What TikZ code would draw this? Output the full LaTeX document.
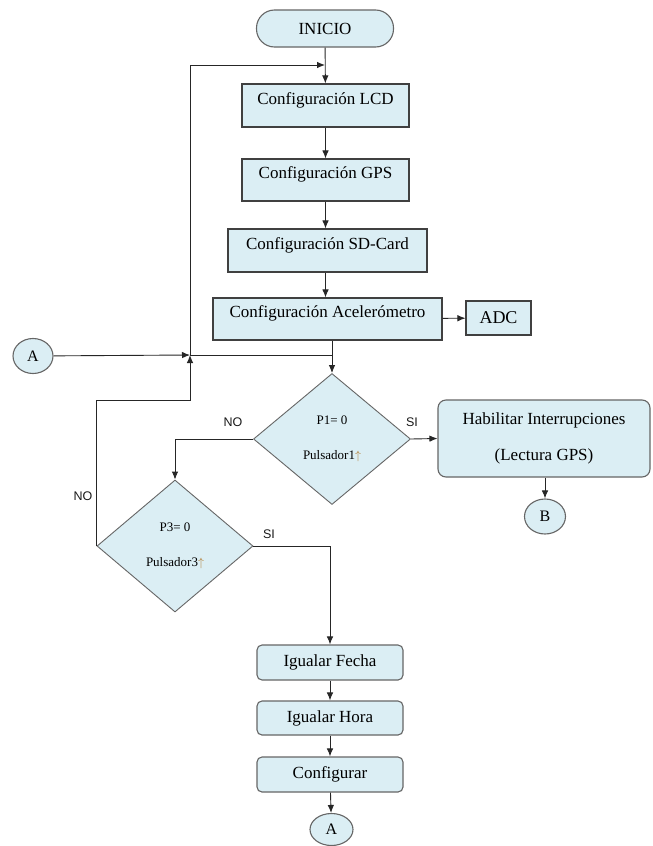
\documentclass[tikz,border=0pt]{standalone}
\usepackage{fontspec}
\setmainfont{Liberation Serif}
\newfontfamily\labelfont{Liberation Sans}
\usepackage{xcolor}
\usepackage{tikz}
\usetikzlibrary{shapes,arrows.meta,positioning}
\definecolor{boxfill}{HTML}{DBEEF4}
\definecolor{boxline}{HTML}{404040}
\definecolor{softline}{HTML}{666666}
\definecolor{upcolor}{HTML}{B07A30}

\begin{document}
\begin{tikzpicture}[x=1pt, y=-1pt,
    base/.style={rectangle, draw=boxline, line width=1.1pt, fill=boxfill, inner sep=0pt, font=\fontsize{17}{19}\selectfont},
    box/.style={base, text height=11pt, text depth=14pt},
    rbox/.style={base, draw=softline, rounded corners=5pt},
    term/.style={base, draw=softline, rounded corners=18pt},
    cond/.style={diamond, draw=softline, line width=0.9pt, fill=boxfill, inner sep=0pt, align=center, font=\fontsize{13}{15}\selectfont},
    conn/.style={ellipse, draw=softline, line width=1.1pt, fill=boxfill, inner sep=0pt, font=\fontsize{16}{19}\selectfont},
    lbl/.style={font=\labelfont\fontsize{12.5}{15}\selectfont, text=black!90},
    arrow/.style={-{Latex[length=8pt,width=6.5pt]}, line width=0.9pt, draw=black!85},
    wire/.style={line width=0.9pt, draw=black!85}
]
    \path[use as bounding box, fill=white] (0,0) rectangle (653,846);

    % Start and setup
    \node[term, minimum width=137pt, minimum height=37pt] (ini) at (325,28.5) {INICIO};
    \node[box, minimum width=167pt, minimum height=43pt] (lcd) at (325.5,105.5) {Configuración LCD};
    \node[box, minimum width=167pt, minimum height=42pt] (gps) at (325.5,180) {Configuración GPS};
    \node[box, minimum width=199pt, minimum height=43pt] (sd) at (327.5,250.5) {Configuración SD-Card};
    \node[box, minimum width=229pt, minimum height=42pt] (acc) at (327.5,319) {Configuración Acelerómetro};
    \node[base, minimum width=65pt, minimum height=34pt, font=\fontsize{18}{21}\selectfont] (adc) at (498.5,318) {ADC};

    % Connectors
    \node[conn, minimum width=40pt, minimum height=35pt] (ina) at (33,356) {A};
    \node[conn, minimum width=41pt, minimum height=35pt] (outb) at (545,516.5) {B};
    \node[conn, minimum width=43pt, minimum height=32pt] (outa) at (331.5,829.5) {A};

    % Decisions
    \node[cond, minimum width=157pt, minimum height=131pt] (p1) at (332,439) {P1= 0\\[20pt]Pulsador1{\color{upcolor}$\uparrow$}};
    \node[cond, minimum width=156pt, minimum height=132pt] (p3) at (175,546) {P3= 0\\[20pt]Pulsador3{\color{upcolor}$\uparrow$}};

    % Actions
    \node[rbox, minimum width=212pt, minimum height=77pt, rounded corners=8pt, align=center] (hab) at (544,438.5) {Habilitar Interrupciones\\[17pt](Lectura GPS)};
    \node[rbox, minimum width=146pt, minimum height=35pt] (fecha) at (330,662.5) {Igualar Fecha};
    \node[rbox, minimum width=146pt, minimum height=34pt] (hora) at (330,718) {Igualar Hora};
    \node[rbox, minimum width=146pt, minimum height=35pt] (conf) at (330,774.5) {Configurar};

    % Junctions
    \coordinate (join) at (190,355);
    \coordinate (top) at (325,65);
    \coordinate (back) at (190,400);

    % Arrows
    \draw[arrow] (ini) -- (lcd);
    \draw[arrow] (join) |- (top);
    \draw[arrow] (lcd) -- (gps);
    \draw[arrow] (gps.south) -- (gps.south |- sd.north);
    \draw[arrow] (sd.south -| gps.south) -- (gps.south |- acc.north);
    \draw[arrow] (acc) -- (adc);
    \draw[arrow] (acc.south -| p1.north) -- (p1.north);
    \draw[wire] (join) -- (join -| p1.north);
    \draw[arrow] (ina) -- (join);
    \draw[arrow] (p1.east) -- (hab.west);
    \draw[arrow] (p1.west) -| (p3.north);
    \draw[arrow] (hab.south -| outb.north) -- (outb);
    \draw[arrow] (p3.east) -| (fecha.north);
    \draw[arrow] (p3.west) |- (back) -- (join);
    \draw[arrow] (fecha) -- (hora);
    \draw[arrow] (hora) -- (conf);
    \draw[arrow] (conf) -- (outa);

    % Labels
    \node[lbl] (no1) at (233,422) {NO};
    \node[lbl] (si1) at (412,422) {SI};
    \node[lbl] (no3) at (83,496) {NO};
    \node[lbl] (si3) at (269,534) {SI};
\end{tikzpicture}
\end{document}
